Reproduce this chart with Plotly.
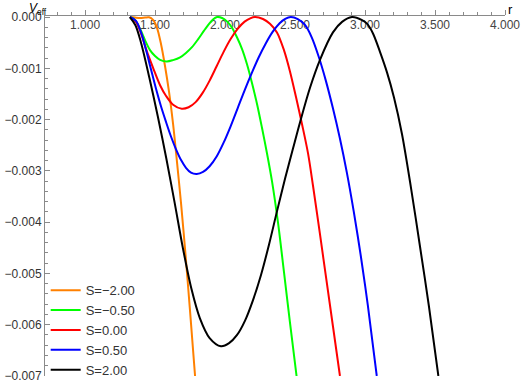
import plotly.graph_objects as go

# effective potential curves V_eff(r)
r_s_m200 = [1.321, 1.357, 1.393, 1.429, 1.457, 1.486, 1.514, 1.543, 1.571, 1.600, 1.629,
            1.657, 1.686, 1.714, 1.750, 1.786]
v_s_m200 = [0.0, -0.000011, -0.000019, -0.000011, -0.000006, -0.000057, -0.00021, -0.00053,
            -0.00095, -0.00146, -0.00209, -0.00283, -0.00364, -0.00451, -0.00573, -0.0070]

r_s_m050 = [1.321, 1.357, 1.393, 1.429, 1.464, 1.500, 1.536, 1.584, 1.629, 1.679, 1.721,
            1.764, 1.807, 1.850, 1.886, 1.914, 1.943, 1.979, 2.014, 2.050, 2.086, 2.121,
            2.157, 2.193, 2.229, 2.264, 2.300, 2.336, 2.379, 2.421, 2.464, 2.511]
v_s_m050 = [0.0, -0.000057, -0.00023, -0.000455, -0.000645, -0.00076, -0.000835, -0.000867,
            -0.00084, -0.000787, -0.0007, -0.000588, -0.000436, -0.000266, -0.000133, -0.000047,
            0.0, -0.000019, -0.000085, -0.00021, -0.0004, -0.00062, -0.00092, -0.00129,
            -0.0017, -0.00216, -0.00266, -0.00321, -0.00402, -0.00497, -0.00596, -0.0070]

r_s_000 = [1.321, 1.364, 1.400, 1.443, 1.486, 1.536, 1.579, 1.629, 1.691, 1.740, 1.790,
           1.840, 1.890, 1.940, 1.990, 2.040, 2.090, 2.140, 2.180, 2.214, 2.271, 2.321,
           2.371, 2.421, 2.464, 2.507, 2.550, 2.593, 2.629, 2.679, 2.729, 2.771, 2.821]
v_s_000 = [0.0, -0.000095, -0.00032, -0.00068, -0.00099, -0.00133, -0.00154, -0.00171,
           -0.00179, -0.00176, -0.00166, -0.00148, -0.00124, -0.00096, -0.00068, -0.00043,
           -0.00023, -0.00009, -0.000025, 0.0, -0.000038, -0.00013, -0.0003, -0.000645,
           -0.00106, -0.00156, -0.00209, -0.00266, -0.0033, -0.00425, -0.00522, -0.00603,
           -0.0070]

r_s_050 = [1.321, 1.364, 1.400, 1.436, 1.471, 1.507, 1.543, 1.579, 1.614, 1.650, 1.686,
           1.721, 1.757, 1.798, 1.843, 1.890, 1.940, 1.990, 2.040, 2.090, 2.140, 2.190,
           2.240, 2.290, 2.340, 2.390, 2.430, 2.470, 2.520, 2.570, 2.620, 2.670, 2.720,
           2.770, 2.820, 2.870, 2.920, 2.970, 3.020, 3.084]
v_s_050 = [0.0, -0.000076, -0.0003, -0.000645, -0.00102, -0.0014, -0.001745, -0.00205,
           -0.00233, -0.00258, -0.00279, -0.00294, -0.003035, -0.00306, -0.00302, -0.00291,
           -0.00272, -0.00245, -0.00213, -0.00178, -0.00143, -0.0011, -0.00079, -0.00052,
           -0.00029, -0.00012, -0.000035, 0.0, -0.00004, -0.00015, -0.0004, -0.00078,
           -0.00124, -0.00177, -0.00236, -0.00303, -0.0038, -0.00466, -0.00562, -0.0070]

r_s_200 = [1.320, 1.360, 1.400, 1.460, 1.520, 1.580, 1.640, 1.700, 1.760, 1.820, 1.890,
           1.971, 2.029, 2.086, 2.143, 2.200, 2.257, 2.314, 2.371, 2.429, 2.486, 2.536,
           2.607, 2.679, 2.771, 2.836, 2.907, 2.979, 3.014, 3.057, 3.107, 3.157, 3.207,
           3.264, 3.329, 3.393, 3.457, 3.524]
v_s_200 = [0.0, -0.00016, -0.0005, -0.00119, -0.00194, -0.00275, -0.00362, -0.00452,
           -0.0053, -0.00587, -0.00626, -0.00642, -0.00636, -0.0062, -0.00592, -0.00552,
           -0.00503, -0.00444, -0.00379, -0.00315, -0.00256, -0.00205, -0.00138, -0.00083,
           -0.0003, -0.000095, 0.0, -0.00006, -0.00013, -0.00032, -0.00068, -0.00108,
           -0.00157, -0.00228, -0.00334, -0.00448, -0.00565, -0.0070]

labels = ["S=−2.00", "S=−0.50", "S=0.00", "S=0.50", "S=2.00"]
colors = ["#FF8000", "#00FF00", "#FF0000", "#0000FF", "#000000"]
series = [(r_s_m200, v_s_m200), (r_s_m050, v_s_m050), (r_s_000, v_s_000),
          (r_s_050, v_s_050), (r_s_200, v_s_200)]

axis_grey = "#8a8a8a"
text_grey = "#333333"
font_family = "Liberation Sans, Arial, sans-serif"

fig = go.Figure()
for (r, v), name, color in zip(series, labels, colors):
    fig.add_trace(
        go.Scatter(
            x=r,
            y=v,
            mode="lines",
            name=name,
            line=dict(color=color, width=2, shape="spline", smoothing=0.9),
        )
    )

fig.update_layout(
    width=523,
    height=392,
    margin=dict(l=45, r=18, t=16, b=7),
    paper_bgcolor="white",
    plot_bgcolor="white",
    font=dict(family=font_family, size=12, color=text_grey),
    showlegend=True,
    legend=dict(
        x=0.0015,
        y=0.28,
        xanchor="left",
        yanchor="top",
        bgcolor="rgba(0,0,0,0)",
        font=dict(size=13, color=text_grey),
        itemwidth=30,
        tracegroupgap=0,
    ),
)

fig.update_xaxes(
    range=[0.714, 4.0],
    side="top",
    automargin=False,
    showgrid=False,
    zeroline=False,
    showline=True,
    linecolor=axis_grey,
    linewidth=1,
    layer="below traces",
    ticks="outside",
    ticklen=5,
    tickcolor=axis_grey,
    tick0=1.0,
    dtick=0.5,
    tickformat=".3f",
    ticklabelposition="inside",
    ticklabeloverflow="allow",
    ticklabelstandoff=4,
    minor=dict(tick0=1.0, dtick=0.1, ticks="outside", ticklen=3, tickcolor=axis_grey),
)

fig.update_yaxes(
    range=[-0.007, 0.00002],
    automargin=False,
    showgrid=False,
    zeroline=False,
    showline=True,
    linecolor=axis_grey,
    linewidth=1,
    layer="below traces",
    ticks="inside",
    ticklen=5,
    tickcolor=axis_grey,
    tick0=0,
    dtick=0.001,
    tickformat=".3f",
    minor=dict(tick0=0, dtick=0.0002, ticks="inside", ticklen=3, tickcolor=axis_grey),
)

# axis labels in the Mathematica style
fig.add_annotation(
    text="<i>V</i><sub>eff</sub>",
    xref="paper", yref="paper", x=0.0, y=1.0,
    xanchor="right", yanchor="bottom",
    xshift=4, yshift=-3,
    showarrow=False,
    font=dict(size=12, color="#000000"),
)
fig.add_annotation(
    text="r",
    xref="paper", yref="paper", x=1.0, y=1.0,
    xanchor="left", yanchor="bottom",
    xshift=1, yshift=-3,
    showarrow=False,
    font=dict(size=13, color="#000000"),
)

# the page must not add its own margin around the fixed-size figure
fig.write_html(
    "out.html",
    config={"displayModeBar": False},
    post_script="document.body.style.margin = '0';",
)
